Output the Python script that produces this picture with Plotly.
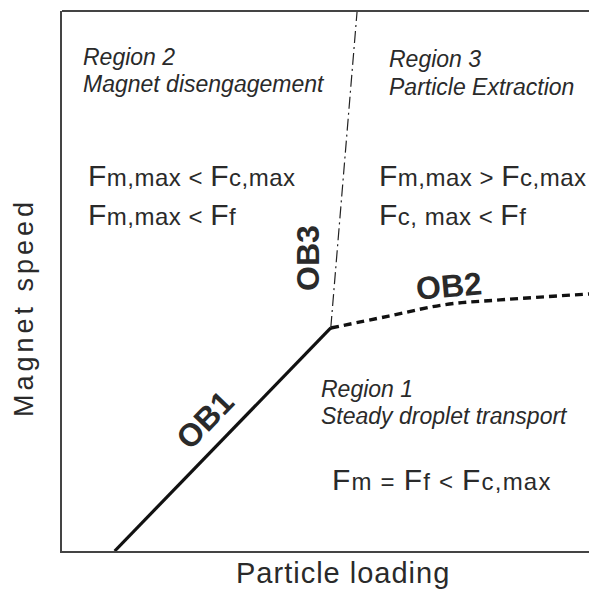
import plotly.graph_objects as go

# Boundary lines (axis units: particle loading 0-10, magnet speed 0-10)
ob1_x = [1.0, 5.10]
ob1_y = [0.0, 4.13]
ob2_x = [5.10, 6.20, 7.25, 8.31, 10.0]
ob2_y = [4.13, 4.35, 4.56, 4.65, 4.76]
ob3_x = [5.10, 5.60]
ob3_y = [4.13, 10.0]

FONT = "Liberation Sans, Arial, sans-serif"
TXT = "#2a2a2a"

fig = go.Figure()
fig.add_trace(go.Scatter(x=ob1_x, y=ob1_y, mode="lines",
                         line=dict(color="#111", width=3.2), hoverinfo="skip"))
fig.add_trace(go.Scatter(x=ob2_x, y=ob2_y, mode="lines", line_shape="spline",
                         line=dict(color="#111", width=3.4, dash="8px,5px"), hoverinfo="skip"))
fig.add_trace(go.Scatter(x=ob3_x, y=ob3_y, mode="lines",
                         line=dict(color="#222", width=1.2, dash="12px,4px,2px,4px"), hoverinfo="skip"))

def F(main, sub):
    return f"<span style='font-size:30px'>{main}</span>{sub}"

def sp(t, px):
    return f"<span style='letter-spacing:{px}px'>{t}</span>"

ann = []
def add(x, y, text, size=23, italic=False, bold=False, angle=0, xanchor="left", ref="x"):
    t = text
    if italic:
        t = f"<i>{t}</i>"
    if bold:
        t = f"<b>{t}</b>"
    ann.append(dict(x=x, y=y, xref=ref, yref=ref.replace("x", "y"), text=t, showarrow=False,
                    xanchor=xanchor, yanchor="middle", textangle=angle,
                    font=dict(family=FONT, size=size, color=TXT)))

add(0.36, 9.15, "Region 2", italic=True)
add(0.36, 8.64, "Magnet disengagement", italic=True)
add(6.16, 9.11, "Region 3", italic=True)
add(6.16, 8.60, "Particle Extraction", italic=True)
add(0.45, 6.96, sp(F("F", "m,max") + " &lt; " + F("F", "c,max"), 0.5), size=24)
add(0.45, 6.24, sp(F("F", "m,max") + " &lt; " + F("F", "f"), 0.5), size=24)
add(5.97, 6.96, sp(F("F", "m,max") + " &gt; " + F("F", "c,max"), 0.5), size=24)
add(5.97, 6.24, sp(F("F", "c, max") + " &lt; " + F("F", "f"), 0.5), size=24)
add(4.87, 3.00, "Region 1", italic=True)
add(4.87, 2.50, "Steady droplet transport", italic=True)
add(5.08, 1.32, sp(F("F", "m") + " = " + F("F", "f") + " &lt; " + F("F", "c,max"), 1.2), size=24)
add(2.71, 2.43, "OB1", size=32, bold=True, angle=-46, xanchor="center")
add(4.67, 5.43, "OB3", size=32, bold=True, angle=-90, xanchor="center")
add(7.34, 4.91, "OB2", size=32, bold=True, angle=-5, xanchor="center")
# axis titles
add(0.533, -0.041, sp("Particle loading", 1), size=29, xanchor="center", ref="paper")
add(-0.072, 0.45, sp("Magnet speed", 4), size=27, angle=-90, xanchor="center", ref="paper")

fig.update_layout(
    width=589, height=593,
    margin=dict(l=62, r=0, t=11, b=42),
    paper_bgcolor="white", plot_bgcolor="white",
    showlegend=False,
    annotations=ann,
    shapes=[dict(type="line", xref="paper", yref="paper", x0=0, x1=1, y0=1, y1=1,
                 line=dict(color="#444", width=2))],
    xaxis=dict(range=[0, 10], showgrid=False, zeroline=False, showticklabels=False,
               ticks="", showline=True, linecolor="#444", linewidth=2),
    yaxis=dict(range=[0, 10], showgrid=False, zeroline=False, showticklabels=False,
               ticks="", showline=True, linecolor="#444", linewidth=2),
)

fig.write_html("out.html", config={"displayModeBar": False},
               post_script="document.body.style.margin='0';document.body.style.overflow='hidden';")
